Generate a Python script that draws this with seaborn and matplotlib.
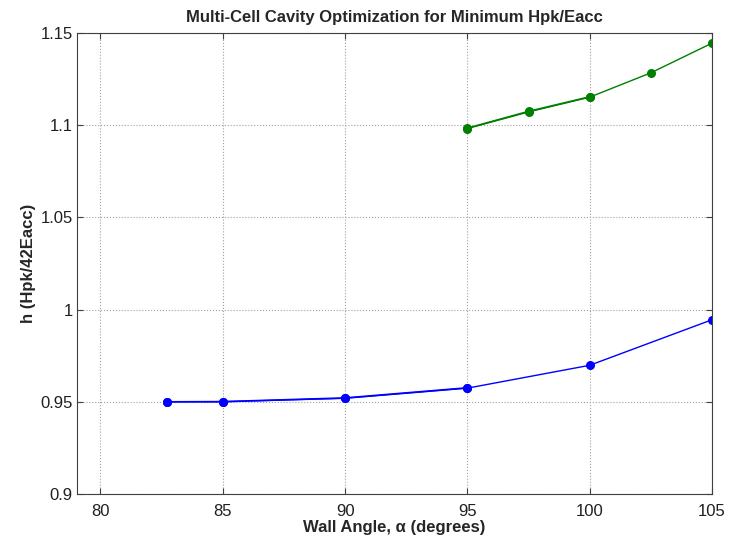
import pandas as pd
import numpy as np
import matplotlib.pyplot as plt
import seaborn as sns

sns.set_style("ticks")
plt.rcParams['font.family'] = ['Liberation Sans', 'DejaVu Sans']

# blue branch (lower h)
blue_angle = [82.7, 85, 90, 95, 100, 105]
blue_h = [0.9500, 0.9500, 0.9519, 0.9574, 0.9698, 0.9945]
# blue repeated scan over the first part (drawn on top, looks thicker)
blue_rep_angle = [82.7, 85, 90, 95]
blue_rep_h = [0.9500, 0.9501, 0.9521, 0.9576]

# green branch (upper h)
green_angle = [95, 97.5, 100, 102.5, 105]
green_h = [1.0982, 1.1072, 1.1152, 1.1284, 1.1445]
green_rep_angle = [95, 97.5, 100]
green_rep_h = [1.0984, 1.1075, 1.1154]

x_ticks = [80, 85, 90, 95, 100, 105]
y_ticks = [0.9, 0.95, 1.0, 1.05, 1.1, 1.15]
y_labels = ['0.9', '0.95', '1', '1.05', '1.1', '1.15']

fig = plt.figure(figsize=(7.33, 5.36), dpi=100)
ax = fig.add_axes([77 / 733, 1 - 494 / 536, (712 - 77) / 733, (494 - 33) / 536])

sns.lineplot(x=blue_angle, y=blue_h, color=(0, 0, 1), lw=1, marker='o',
             markersize=6.5, markeredgewidth=0, ax=ax)
sns.lineplot(x=blue_rep_angle, y=blue_rep_h, color=(0, 0, 1), lw=1.2, marker='o',
             markersize=6.5, markeredgewidth=0, ax=ax)
sns.lineplot(x=green_angle, y=green_h, color=(0, 0.5, 0), lw=1, marker='o',
             markersize=6.5, markeredgewidth=0, ax=ax)
sns.lineplot(x=green_rep_angle, y=green_rep_h, color=(0, 0.5, 0), lw=1.2, marker='o',
             markersize=6.5, markeredgewidth=0, ax=ax)

ax.set_xlim(79.04, 105)
ax.set_ylim(0.9, 1.15)
ax.set_xticks(x_ticks)
ax.set_yticks(y_ticks)
ax.set_yticklabels(y_labels)
ax.grid(True, linestyle=':', color='#a0a0a0', linewidth=0.8)
ax.tick_params(direction='in', top=True, right=True, labelsize=12,
               length=4, color='#404040', labelcolor='#202020')
ax.tick_params(axis='x', pad=7)
ax.tick_params(axis='y', pad=3)
for s in ax.spines.values():
    s.set_color('#404040')
    s.set_linewidth(0.8)

ax.set_title('Multi-Cell Cavity Optimization for Minimum Hpk/Eacc',
             fontsize=12, fontweight='bold', pad=8)
ax.set_xlabel('Wall Angle, α (degrees)', fontsize=12, fontweight='bold', labelpad=1)
ax.set_ylabel('h (Hpk/42Eacc)', fontsize=12, fontweight='bold', labelpad=3)

fig.savefig('out.png', dpi=100)
